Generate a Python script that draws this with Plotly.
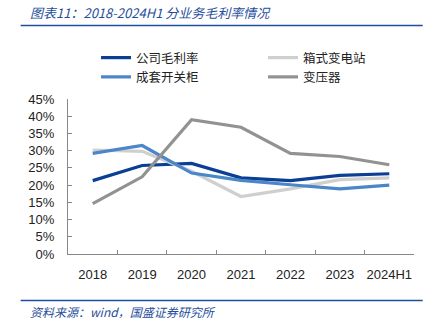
import plotly.graph_objects as go

categories = ["2018", "2019", "2020", "2021", "2022", "2023", "2024H1"]
company = [0.213, 0.257, 0.263, 0.221, 0.213, 0.228, 0.233]
box_sub = [0.302, 0.298, 0.240, 0.167, 0.189, 0.216, 0.221]
switchgear = [0.292, 0.315, 0.235, 0.214, 0.201, 0.189, 0.200]
transformer = [0.146, 0.224, 0.390, 0.368, 0.292, 0.283, 0.259]

names = ["公司毛利率", "箱式变电站", "成套开关柜", "变压器"]
series = [company, box_sub, switchgear, transformer]
colors = ["#0A3F93", "#CFCFCF", "#4A86C8", "#929292"]

fig = go.Figure()
for n, s, c in zip(names, series, colors):
    fig.add_trace(go.Scatter(x=categories, y=s, name=n, mode="lines",
                             line=dict(color=c, width=3.2)))

W, H = 442, 325
ml, mr, mt, mb = 68, 16, 99, 71
pw, ph = W - ml - mr, H - mt - mb

def px_x(x):
    return (x - ml) / pw

def px_y(y):
    return (H - mb - y) / ph

blue = "#1F4E9B"
fig.update_layout(
    width=W, height=H,
    margin=dict(l=ml, r=mr, t=mt, b=mb),
    paper_bgcolor="white", plot_bgcolor="white",
    font=dict(family="Liberation Sans, Arial", size=13, color="#222222"),
    showlegend=True,
    legend=dict(orientation="h", x=px_x(97), y=px_y(43), xanchor="left", yanchor="top",
                entrywidth=122, entrywidthmode="pixels",
                font=dict(family="Noto Sans CJK SC", size=12.5, color="#222222"),
                tracegroupgap=0, itemwidth=30, bgcolor="rgba(0,0,0,0)"),
    xaxis=dict(type="category", range=[-0.5, 6.5], tickson="boundaries",
               ticks="inside", ticklen=4, tickcolor="#888888", tickangle=0,
               showline=True, linecolor="#888888", linewidth=1,
               showgrid=False, zeroline=False, ticklabelstandoff=8,
               tickfont=dict(size=13, color="#222222")),
    yaxis=dict(range=[0, 0.45], dtick=0.05, tickformat=".0%",
               ticks="inside", ticklen=4, tickcolor="#888888",
               showline=True, linecolor="#888888", linewidth=1,
               showgrid=False, zeroline=False, ticklabelstandoff=10,
               tickfont=dict(size=13, color="#222222")),
)

fig.add_annotation(text="图表11：2018-2024H1 分业务毛利率情况", xref="paper", yref="paper",
                   x=px_x(27), y=px_y(12), xanchor="left", yanchor="middle", showarrow=False,
                   font=dict(family="Noto Sans CJK SC", size=13, color=blue, style="italic"))
fig.add_annotation(text="资料来源：wind，国盛证券研究所", xref="paper", yref="paper",
                   x=px_x(27), y=px_y(311), xanchor="left", yanchor="middle", showarrow=False,
                   font=dict(family="Noto Sans CJK SC", size=12, color=blue, style="italic"))

for yy in (25.5, 300.5):
    fig.add_shape(type="line", xref="paper", yref="paper",
                  x0=px_x(19), x1=px_x(435), y0=px_y(yy), y1=px_y(yy),
                  line=dict(color=blue, width=1.5))

fig.write_html("out.html")
